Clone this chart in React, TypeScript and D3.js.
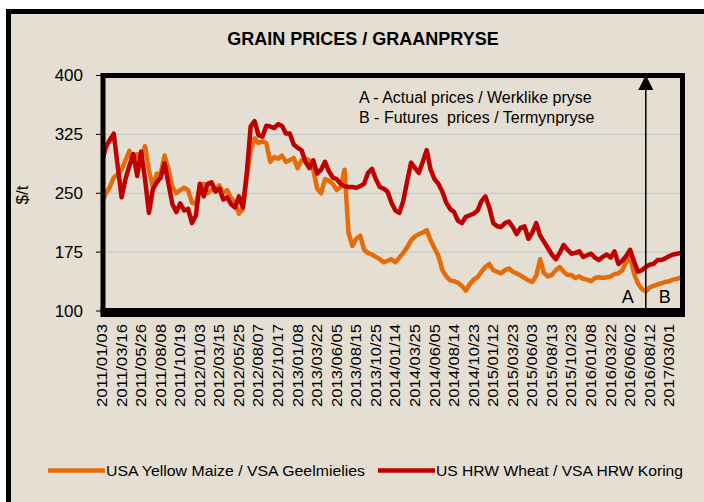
import React, { useEffect, useRef } from "react";
import * as d3 from "d3";

// category labels shown every 50 trading days
const xLabels = [
  "2011/01/03", "2011/03/16", "2011/05/26", "2011/08/08", "2011/10/19",
  "2012/01/03", "2012/03/15", "2012/05/25", "2012/08/07", "2012/10/17",
  "2013/01/08", "2013/03/22", "2013/06/05", "2013/08/15", "2013/10/25",
  "2014/01/14", "2014/03/25", "2014/06/05", "2014/08/14", "2014/10/23",
  "2015/01/12", "2015/03/23", "2015/06/03", "2015/08/13", "2015/10/23",
  "2016/01/08", "2016/03/22", "2016/06/02", "2016/08/12", "2017/03/01",
];
const yTicks = [100, 175, 250, 325, 400];

// $/t, one value every 10 trading days (last 9 values are futures)
const maize = [
  237, 250, 258, 270, 274, 280, 292, 304, 290, 300,
  294, 310, 279, 258, 275, 275, 298, 280, 258, 250,
  254, 257, 254, 238, 236, 258, 262, 250, 254, 256,
  260, 250, 254, 244, 238, 224, 230, 270, 305, 320,
  314, 316, 314, 290, 296, 294, 298, 290, 292, 295,
  282, 292, 294, 292, 280, 256, 250, 268, 266, 262,
  254, 258, 280, 200, 183, 192, 196, 178, 174, 172,
  169, 166, 162, 164, 166, 162, 168, 174, 181, 190,
  195, 198, 200, 203, 190, 180, 170, 152, 144, 139,
  138, 136, 132, 126, 134, 140, 143, 150, 156, 160,
  152, 150, 148, 152, 154, 150, 148, 145, 142, 139,
  137, 145, 166, 148, 144, 146, 152, 156, 150, 146,
  146, 142, 144, 141, 140, 138, 142, 143, 142, 143,
  144, 147, 148, 152, 162, 168, 148, 135, 128, 125,
  130, 132, 134, 135, 137, 138, 140, 141, 143,
];
const wheat = [
  290, 309, 318, 326, 285, 245, 268, 285, 300, 272,
  303, 268, 225, 255, 264, 270, 288, 262, 236, 226,
  237, 228, 230, 212, 222, 262, 246, 262, 264, 252,
  256, 242, 245, 236, 232, 246, 232, 275, 335, 342,
  324, 322, 336, 335, 333, 338, 336, 326, 326, 312,
  308, 305, 290, 282, 292, 275, 280, 290, 278, 270,
  268, 262, 259, 258, 258, 257, 259, 262, 276, 281,
  268, 258, 256, 252, 238, 228, 225, 240, 265, 289,
  282, 276, 290, 305, 280, 268, 262, 252, 238, 230,
  226, 215, 212, 220, 222, 224, 228, 240, 246, 232,
  212, 208, 207, 212, 214, 207, 198, 206, 208, 192,
  200, 212, 196, 188, 180, 172, 166, 174, 184, 178,
  173, 174, 176, 169, 171, 173, 168, 165, 169, 172,
  168, 176, 160, 164, 170, 178, 163, 150, 152, 156,
  159, 160, 165, 165, 167, 170, 172, 173, 174,
];

const step = 10;
const labelEvery = 50;
const splitIndex = 1390; // actual -> futures boundary

const font = "'Liberation Sans', Arial, sans-serif";
const bg = "#e5ded2";

const App: React.FC = () => {
  const svgRef = useRef<SVGSVGElement | null>(null);

  useEffect(() => {
    if (!svgRef.current) return;
    const svg = d3.select(svgRef.current);
    svg.selectAll("*").remove();

    const left = 103, right = 682.5, top = 75.5, bottom = 311;

    const x = d3.scaleLinear()
      .domain([0, (maize.length - 1) * step])
      .range([102, 681]);
    const y = d3.scaleLinear().domain([100, 400]).range([bottom, top]);

    // page + outer frame
    svg.append("rect").attr("width", 704).attr("height", 502).attr("fill", "#ffffff");
    svg.append("rect")
      .attr("x", 8.5).attr("y", 11.5).attr("width", 720).attr("height", 520)
      .attr("fill", bg).attr("stroke", "#000").attr("stroke-width", 5);

    svg.append("text")
      .attr("x", 363).attr("y", 45)
      .attr("text-anchor", "middle")
      .style("font-family", font).style("font-weight", "bold").style("font-size", "18px")
      .text("GRAIN PRICES / GRAANPRYSE");

    // gridlines
    svg.append("g")
      .selectAll("line")
      .data(yTicks.filter(d => d > 100 && d < 400))
      .enter().append("line")
      .attr("x1", left).attr("x2", right)
      .attr("y1", d => y(d)).attr("y2", d => y(d))
      .attr("stroke", "#c4c4c4").attr("stroke-width", 1);

    // y ticks + labels
    svg.append("g")
      .selectAll("line")
      .data(yTicks)
      .enter().append("line")
      .attr("x1", 96).attr("x2", left)
      .attr("y1", d => y(d)).attr("y2", d => y(d))
      .attr("stroke", "#000").attr("stroke-width", 1);
    svg.append("g")
      .selectAll("text")
      .data(yTicks)
      .enter().append("text")
      .attr("x", 83).attr("y", d => y(d))
      .attr("text-anchor", "end").attr("dominant-baseline", "central")
      .style("font-family", font).style("font-size", "17px")
      .text(d => d);

    svg.append("text")
      .attr("transform", "translate(22,195) rotate(-90)")
      .attr("text-anchor", "middle").attr("dominant-baseline", "central")
      .style("font-family", font).style("font-size", "17px")
      .text("$/t");

    // series
    svg.append("clipPath").attr("id", "plotClip")
      .append("rect").attr("x", left).attr("y", top).attr("width", right - left).attr("height", bottom - top);

    const line = d3.line<number>()
      .x((_, i) => x(i * step))
      .y(d => y(d));

    svg.append("path")
      .datum(maize)
      .attr("clip-path", "url(#plotClip)")
      .attr("fill", "none").attr("stroke", "#E46C0A")
      .attr("stroke-width", 4.5).attr("stroke-linejoin", "round")
      .attr("d", line);
    svg.append("path")
      .datum(wheat)
      .attr("clip-path", "url(#plotClip)")
      .attr("fill", "none").attr("stroke", "#C00000")
      .attr("stroke-width", 4.5).attr("stroke-linejoin", "round")
      .attr("d", line);

    // plot frame
    svg.append("rect")
      .attr("x", left).attr("y", top)
      .attr("width", right - left).attr("height", bottom - top)
      .attr("fill", "none").attr("stroke", "#000").attr("stroke-width", 5);
    svg.append("line")
      .attr("x1", left - 2.5).attr("x2", right + 2.5)
      .attr("y1", 312.5).attr("y2", 312.5)
      .attr("stroke", "#000").attr("stroke-width", 9);

    // actual / futures marker
    const sx = x(splitIndex);
    svg.append("line")
      .attr("x1", sx).attr("x2", sx)
      .attr("y1", bottom).attr("y2", 88)
      .attr("stroke", "#000").attr("stroke-width", 1.5);
    svg.append("path")
      .attr("d", `M${sx},75 L${sx - 7.5},90 L${sx + 7.5},90 Z`)
      .attr("fill", "#000");
    svg.append("text")
      .attr("x", sx - 18).attr("y", 303)
      .attr("text-anchor", "middle")
      .style("font-family", font).style("font-size", "18px")
      .text("A");
    svg.append("text")
      .attr("x", sx + 19).attr("y", 303)
      .attr("text-anchor", "middle")
      .style("font-family", font).style("font-size", "18px")
      .text("B");

    const notes = ["A - Actual prices / Werklike pryse", "B - Futures  prices / Termynpryse"];
    svg.append("g")
      .selectAll("text")
      .data(notes)
      .enter().append("text")
      .attr("x", 359).attr("y", (_, i) => 103 + i * 19.5)
      .attr("xml:space", "preserve")
      .style("white-space", "pre")
      .style("font-family", font).style("font-size", "16px")
      .text(d => d);

    // x labels
    svg.append("g")
      .selectAll("text")
      .data(xLabels)
      .enter().append("text")
      .attr("transform", (_, i) => `translate(${x(i * labelEvery)},324) rotate(-90)`)
      .attr("text-anchor", "end").attr("dominant-baseline", "central")
      .attr("textLength", 83).attr("lengthAdjust", "spacingAndGlyphs")
      .style("font-family", font).style("font-size", "14.5px")
      .text(d => d);

    // legend
    const legend = [
      { name: "USA Yellow Maize / VSA Geelmielies", color: "#E46C0A", x0: 48, len: 259 },
      { name: "US HRW Wheat / VSA HRW Koring", color: "#C00000", x0: 378, len: 247 },
    ];
    const lg = svg.append("g").selectAll("g").data(legend).enter().append("g");
    lg.append("line")
      .attr("x1", d => d.x0).attr("x2", d => d.x0 + 57)
      .attr("y1", 470.5).attr("y2", 470.5)
      .attr("stroke", d => d.color).attr("stroke-width", 4.5);
    lg.append("text")
      .attr("x", d => d.x0 + 58).attr("y", 476)
      .attr("textLength", d => d.len).attr("lengthAdjust", "spacingAndGlyphs")
      .style("font-family", font).style("font-size", "15px")
      .text(d => d.name);
  }, []);

  return (
    <svg ref={svgRef} width={704} height={502}
      style={{ position: "absolute", left: 0, top: 0, display: "block" }} />
  );
};

export default App;
